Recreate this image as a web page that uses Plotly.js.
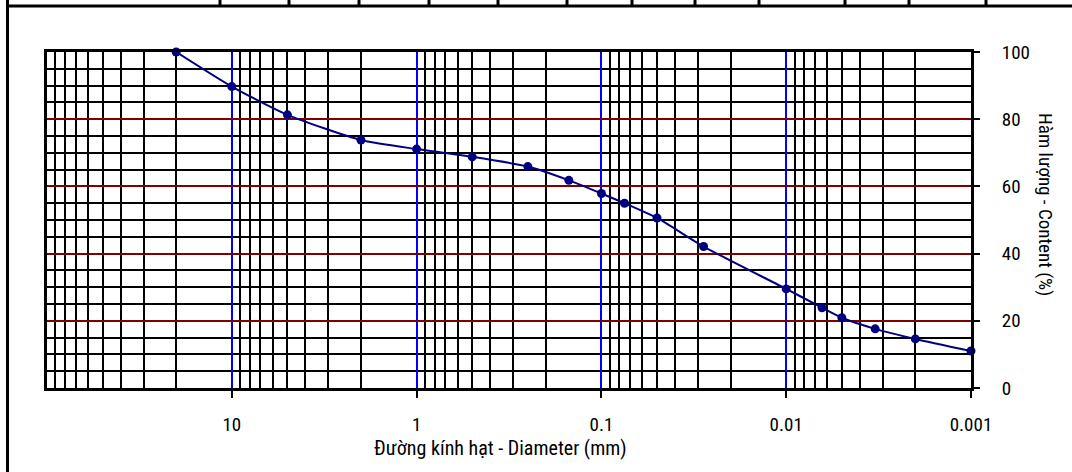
<!DOCTYPE html>
<html>
<head>
<meta charset="utf-8">
<script src="https://cdn.plot.ly/plotly-3.0.1.min.js"></script>
<style>
  html, body { margin: 0; padding: 0; background: #fff; }
  #chart { width: 1072px; height: 472px; }
</style>
</head>
<body>
<div id="chart"></div>
<script>
// Grain size distribution: particle diameter (mm) vs. percent passing
const diameters = [20, 10, 5, 2, 1, 0.5, 0.25, 0.15, 0.1, 0.075, 0.05, 0.028, 0.01, 0.0064, 0.005, 0.0033, 0.002, 0.001];
const passing = [100, 89.7, 81.3, 73.8, 71.1, 68.8, 65.9, 61.8, 57.9, 55.0, 50.6, 42.1, 29.5, 23.9, 20.9, 17.6, 14.6, 11.0];

// Axis labels
const xTickVals = [10, 1, 0.1, 0.01, 0.001];
const xTickText = ['10', '1', '0.1', '0.01', '0.001'];
const yTickVals = [0, 20, 40, 60, 80, 100];
const xTitle = 'Đường kính hạt - Diameter (mm)';
const yTitle = 'Hàm lượng - Content (%)';
const stripLabel = 'Hàm lượng - Content (%)';

// Page geometry (pixels)
const W = 1072, H = 472;
const plotL = 47, plotR = 971, plotT = 52, plotB = 388;
const px = v => (v - plotL) / (plotR - plotL);
const py = v => (plotB - v) / (plotB - plotT);

// Minor log grid: 2..9 in every decade
const minorVals = [];
for (let e = -3; e <= 1; e++) {
  for (let m = 2; m <= 9; m++) minorVals.push(m * Math.pow(10, e));
}

const FONT = '"Roboto Condensed", "Liberation Sans Narrow", "Arial Narrow", Arial, sans-serif';
const FS = 19;

// Table strip across the top of the sheet
const cellEdges = [220, 289, 359, 429, 498, 567, 632, 695, 759, 845, 909, 986, 1098];
const shapes = [];
const frame = { type: 'line', xref: 'paper', yref: 'paper', line: { color: '#000', width: 3 }, layer: 'above' };
shapes.push(Object.assign({}, frame, { x0: px(7.5), x1: px(7.5), y0: py(-2), y1: py(H + 2) }));
shapes.push(Object.assign({}, frame, { x0: px(6), x1: px(W + 2), y0: py(6), y1: py(6) }));
cellEdges.slice(0, -1).forEach(e => {
  shapes.push(Object.assign({}, frame, { x0: px(e), x1: px(e), y0: py(-2), y1: py(6) }));
});

const annotations = [];
annotations.push({
  xref: 'paper', yref: 'paper', x: px(197), y: py(2), xanchor: 'right', yanchor: 'bottom',
  text: stripLabel, showarrow: false, borderpad: 0, font: { family: FONT, size: FS, color: '#000' }
});
for (let i = 0; i < cellEdges.length - 1; i++) {
  const mid = (cellEdges[i] + cellEdges[i + 1]) / 2;
  annotations.push({
    xref: 'paper', yref: 'paper', x: px(mid), y: py(2), xanchor: 'center', yanchor: 'bottom',
    text: passing[i].toFixed(1).replace('.', ','), showarrow: false, borderpad: 0,
    font: { family: FONT, size: FS, color: '#000' }
  });
}
// Axis titles
annotations.push({
  xref: 'paper', yref: 'paper', x: px(500), y: py(448), xanchor: 'center', yanchor: 'middle',
  text: xTitle, showarrow: false, borderpad: 0, font: { family: FONT, size: 20, color: '#000' }
});
annotations.push({
  xref: 'paper', yref: 'paper', x: px(1045), y: py(204), xanchor: 'center', yanchor: 'middle',
  text: yTitle, textangle: 90, showarrow: false, font: { family: FONT, size: FS, color: '#000' }
});

const trace = {
  x: diameters, y: passing,
  type: 'scatter', mode: 'lines+markers',
  line: { color: '#000080', width: 2, shape: 'spline', smoothing: 0.6 },
  marker: { color: '#000080', size: 9 },
  cliponaxis: false,
  hoverinfo: 'x+y'
};

const layout = {
  width: W, height: H,
  margin: { l: plotL, r: W - plotR, t: plotT, b: H - plotB, pad: 0 },
  paper_bgcolor: '#fff', plot_bgcolor: '#fff',
  showlegend: false,
  font: { family: FONT, size: FS, color: '#000' },
  xaxis: {
    type: 'log', range: [2, -3],
    tickvals: xTickVals, ticktext: xTickText,
    showgrid: true, gridcolor: '#0000ff', gridwidth: 2,
    minor: { tickvals: minorVals, showgrid: true, gridcolor: '#000', gridwidth: 2, ticks: '' },
    ticks: 'outside', ticklen: 7, tickwidth: 2, tickcolor: '#000',
    ticklabelstandoff: 10,
    showline: true, linecolor: '#000', linewidth: 3, mirror: true,
    zeroline: false, tickfont: { family: FONT, size: FS, color: '#000' }
  },
  yaxis: {
    side: 'right', range: [0, 100],
    tickvals: yTickVals,
    showgrid: true, gridcolor: '#800000', gridwidth: 2,
    minor: { dtick: 5, showgrid: true, gridcolor: '#000', gridwidth: 2, ticks: '' },
    ticks: 'outside', ticklen: 6, tickwidth: 2, tickcolor: '#000',
    ticklabelstandoff: 18,
    showline: true, linecolor: '#000', linewidth: 3, mirror: true,
    zeroline: false, tickfont: { family: FONT, size: FS, color: '#000' }
  },
  shapes: shapes,
  annotations: annotations
};

Plotly.newPlot('chart', [trace], layout, { displayModeBar: false, staticPlot: true });
</script>
</body>
</html>
